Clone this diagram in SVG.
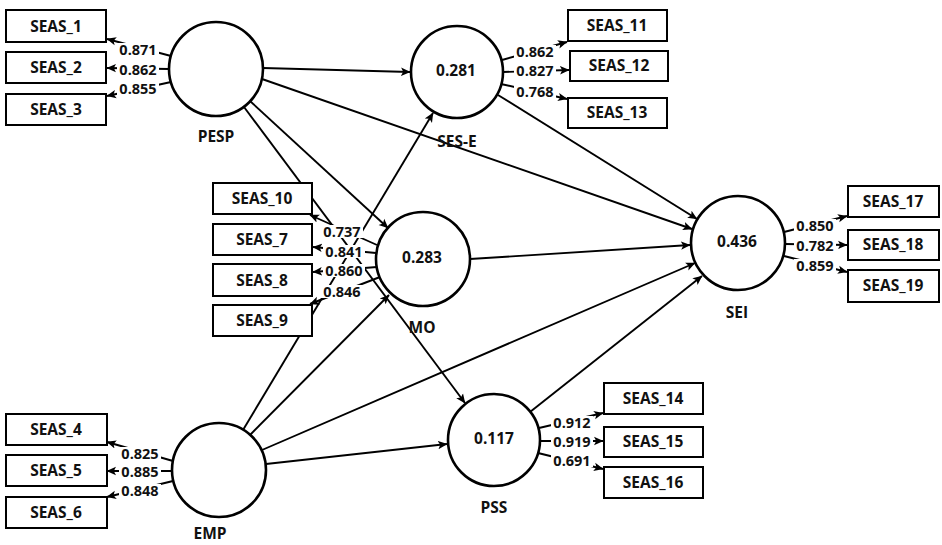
<svg xmlns="http://www.w3.org/2000/svg" width="942" height="545" viewBox="0 0 942 545">
<defs>
<marker id="ah" markerWidth="10" markerHeight="10" refX="9" refY="5" orient="auto" markerUnits="userSpaceOnUse">
<path d="M0,0.8 L9.5,5 L0,9.2 L2.2,5 Z" fill="#000"/>
</marker>
<style>
.bg{fill:#fff}
.ln{stroke:#000;stroke-width:1.9;fill:none;marker-end:url(#ah)}
.box{fill:#fff;stroke:#000;stroke-width:2}
.lv{fill:#fff;stroke:#000;stroke-width:2.6}
text{font-family:"Open Sans","Noto Sans","DejaVu Sans",sans-serif;font-weight:bold;font-size:15.5px;fill:#111;text-anchor:middle}
.ld{font-size:14.5px}
.lb{fill:#fff}
</style>
</defs>
<rect class="bg" x="0" y="0" width="942" height="545"/>
<g id="connectors">
<line class="ln" x1="263" y1="68" x2="410" y2="72"/>
<line class="ln" x1="262" y1="79" x2="692" y2="229"/>
<line class="ln" x1="250" y1="101" x2="388" y2="228"/>
<line class="ln" x1="244" y1="107" x2="465" y2="403"/>
<line class="ln" x1="243" y1="430" x2="433" y2="113"/>
<line class="ln" x1="250" y1="435" x2="389" y2="295"/>
<line class="ln" x1="262" y1="450" x2="695" y2="263"/>
<line class="ln" x1="266" y1="464" x2="447" y2="444"/>
<line class="ln" x1="498" y1="95" x2="697" y2="219"/>
<line class="ln" x1="470" y1="259" x2="690" y2="245"/>
<line class="ln" x1="530" y1="412" x2="702" y2="276"/>
<line class="ln" x1="171" y1="56" x2="107" y2="39"/>
<line class="ln" x1="169" y1="69" x2="107" y2="68"/>
<line class="ln" x1="171" y1="82" x2="107" y2="96"/>
<line class="ln" x1="173" y1="461" x2="107" y2="442"/>
<line class="ln" x1="172" y1="471" x2="107" y2="471"/>
<line class="ln" x1="173" y1="481" x2="107" y2="497"/>
<line class="ln" x1="502" y1="60" x2="567" y2="42"/>
<line class="ln" x1="503" y1="72" x2="569" y2="70"/>
<line class="ln" x1="501" y1="84" x2="567" y2="99"/>
<line class="ln" x1="784" y1="232" x2="847" y2="216"/>
<line class="ln" x1="785" y1="244" x2="847" y2="245"/>
<line class="ln" x1="784" y1="256" x2="847" y2="272"/>
<line class="ln" x1="539" y1="428" x2="603" y2="413"/>
<line class="ln" x1="540" y1="441" x2="603" y2="441"/>
<line class="ln" x1="538" y1="453" x2="603" y2="469"/>
<line class="ln" x1="377" y1="245" x2="310" y2="215"/>
<line class="ln" x1="376" y1="253" x2="313" y2="247"/>
<line class="ln" x1="377" y1="267" x2="313" y2="272"/>
<line class="ln" x1="380" y1="277" x2="310" y2="304"/>
<g id="loading-labels">
<rect class="lb" x="117" y="43" width="42" height="13"/><text class="ld" x="138" y="55">0.871</text>
<rect class="lb" x="117" y="63" width="42" height="13"/><text class="ld" x="138" y="75">0.862</text>
<rect class="lb" x="117" y="82" width="42" height="13"/><text class="ld" x="138" y="94">0.855</text>
<rect class="lb" x="119" y="447" width="42" height="13"/><text class="ld" x="140" y="459">0.825</text>
<rect class="lb" x="119" y="465" width="42" height="13"/><text class="ld" x="140" y="477">0.885</text>
<rect class="lb" x="119" y="484" width="42" height="13"/><text class="ld" x="140" y="496">0.848</text>
<rect class="lb" x="514" y="45" width="42" height="13"/><text class="ld" x="535" y="57">0.862</text>
<rect class="lb" x="514" y="64" width="42" height="13"/><text class="ld" x="535" y="76">0.827</text>
<rect class="lb" x="514" y="85" width="42" height="13"/><text class="ld" x="535" y="97">0.768</text>
<rect class="lb" x="794" y="219" width="42" height="13"/><text class="ld" x="815" y="231">0.850</text>
<rect class="lb" x="794" y="239" width="42" height="13"/><text class="ld" x="815" y="251">0.782</text>
<rect class="lb" x="794" y="259" width="42" height="13"/><text class="ld" x="815" y="271">0.859</text>
<rect class="lb" x="551" y="416" width="42" height="13"/><text class="ld" x="572" y="428">0.912</text>
<rect class="lb" x="551" y="435" width="42" height="13"/><text class="ld" x="572" y="447">0.919</text>
<rect class="lb" x="551" y="454" width="42" height="13"/><text class="ld" x="572" y="466">0.691</text>
<rect class="lb" x="321" y="225" width="42" height="13"/><text class="ld" x="342" y="237">0.737</text>
<rect class="lb" x="323" y="245" width="42" height="13"/><text class="ld" x="344" y="257">0.841</text>
<rect class="lb" x="323" y="264" width="42" height="13"/><text class="ld" x="344" y="276">0.860</text>
<rect class="lb" x="321" y="285" width="42" height="13"/><text class="ld" x="342" y="297">0.846</text>
</g>
</g>
<g id="SEAS_1"><rect class="box" x="6" y="10" width="100" height="32"/><text x="56" y="32">SEAS_1</text></g>
<g id="SEAS_2"><rect class="box" x="6" y="52" width="100" height="31"/><text x="56" y="73">SEAS_2</text></g>
<g id="SEAS_3"><rect class="box" x="6" y="94" width="100" height="31"/><text x="56" y="115">SEAS_3</text></g>
<g id="SEAS_4"><rect class="box" x="6" y="414" width="101" height="31"/><text x="56" y="435">SEAS_4</text></g>
<g id="SEAS_5"><rect class="box" x="6" y="455" width="101" height="31"/><text x="56" y="476">SEAS_5</text></g>
<g id="SEAS_6"><rect class="box" x="6" y="497" width="101" height="31"/><text x="56" y="518">SEAS_6</text></g>
<g id="SEAS_10"><rect class="box" x="213" y="183" width="99" height="31"/><text x="262" y="204">SEAS_10</text></g>
<g id="SEAS_7"><rect class="box" x="213" y="224" width="99" height="31"/><text x="262" y="245">SEAS_7</text></g>
<g id="SEAS_8"><rect class="box" x="213" y="264" width="99" height="32"/><text x="262" y="286">SEAS_8</text></g>
<g id="SEAS_9"><rect class="box" x="213" y="305" width="99" height="31"/><text x="262" y="326">SEAS_9</text></g>
<g id="SEAS_11"><rect class="box" x="568" y="10" width="99" height="31"/><text x="617" y="31">SEAS_11</text></g>
<g id="SEAS_12"><rect class="box" x="570" y="51" width="98" height="30"/><text x="619" y="71">SEAS_12</text></g>
<g id="SEAS_13"><rect class="box" x="568" y="98" width="99" height="30"/><text x="617" y="118">SEAS_13</text></g>
<g id="SEAS_14"><rect class="box" x="604" y="383" width="99" height="31"/><text x="653" y="404">SEAS_14</text></g>
<g id="SEAS_15"><rect class="box" x="604" y="427" width="99" height="30"/><text x="653" y="447">SEAS_15</text></g>
<g id="SEAS_16"><rect class="box" x="604" y="467" width="99" height="31"/><text x="653" y="488">SEAS_16</text></g>
<g id="SEAS_17"><rect class="box" x="848" y="186" width="91" height="31"/><text x="893" y="207">SEAS_17</text></g>
<g id="SEAS_18"><rect class="box" x="848" y="230" width="91" height="30"/><text x="893" y="250">SEAS_18</text></g>
<g id="SEAS_19"><rect class="box" x="848" y="270" width="91" height="32"/><text x="893" y="291">SEAS_19</text></g>
<g id="PESP"><circle class="lv" cx="216" cy="69" r="47"/><text x="216" y="142">PESP</text></g>
<g id="SES-E"><circle class="lv" cx="457" cy="72" r="46"/><text x="456" y="76">0.281</text><text x="457" y="147">SES-E</text></g>
<g id="MO"><circle class="lv" cx="423" cy="259" r="47"/><text x="422" y="263">0.283</text><text x="422" y="333">MO</text></g>
<g id="SEI"><circle class="lv" cx="738" cy="243" r="47"/><text x="737" y="247">0.436</text><text x="737" y="318">SEI</text></g>
<g id="EMP"><circle class="lv" cx="219" cy="470" r="47"/><text x="210" y="539">EMP</text></g>
<g id="PSS"><circle class="lv" cx="494" cy="440" r="46"/><text x="494" y="444">0.117</text><text x="494" y="513">PSS</text></g>
</svg>
